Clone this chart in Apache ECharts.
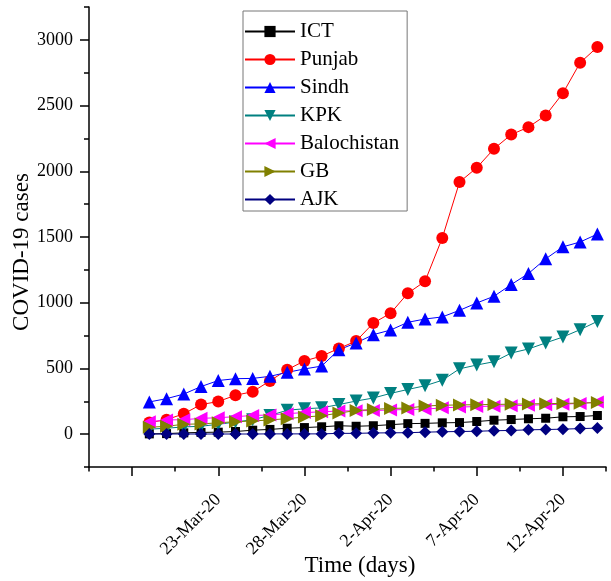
<!DOCTYPE html>
<html>
<head>
<meta charset="utf-8">
<script src="https://cdn.jsdelivr.net/npm/echarts@6/dist/echarts.min.js"></script>
<style>html,body{margin:0;padding:0;background:#fff;}#c{width:611px;height:581px;}</style>
</head>
<body>
<div id="c"></div>
<script>
var dates = ['19-Mar-20','20-Mar-20','21-Mar-20','22-Mar-20','23-Mar-20','24-Mar-20','25-Mar-20','26-Mar-20','27-Mar-20','28-Mar-20','29-Mar-20','30-Mar-20','31-Mar-20','1-Apr-20','2-Apr-20','3-Apr-20','4-Apr-20','5-Apr-20','6-Apr-20','7-Apr-20','8-Apr-20','9-Apr-20','10-Apr-20','11-Apr-20','12-Apr-20','13-Apr-20','14-Apr-20'];
var ICT = [2,4,10,13,15,20,30,36,45,50,56,64,60,64,72,80,82,86,88,96,106,111,117,121,132,134,142];
var Punjab = [88,110,155,225,248,296,323,405,490,557,594,652,708,845,920,1072,1163,1493,1918,2027,2171,2279,2336,2425,2594,2826,2945];
var Sindh = [245,270,305,362,408,422,424,440,470,496,518,642,694,757,792,851,876,892,942,998,1049,1138,1222,1334,1425,1462,1522];
var KPK = [38,45,55,60,75,92,110,142,182,193,200,225,252,275,310,340,368,410,497,526,551,617,648,694,739,795,858];
var Balochistan = [94,108,110,120,125,133,142,146,156,164,170,176,178,180,184,188,190,200,206,210,213,216,220,224,228,234,244];
var GB = [52,60,75,78,86,95,100,108,118,130,140,160,180,188,196,198,214,220,222,224,226,228,230,232,234,236,240];
var AJK = [1,1,1,1,1,1,1,2,2,2,2,6,6,9,10,11,15,18,20,22,26,28,33,35,38,42,46];
var yMajorTicks = [0,500,1000,1500,2000,2500,3000];
var xMajorTicks = [0,5,10,15,20,25];
var months = ['Jan','Feb','Mar','Apr','May','Jun','Jul','Aug','Sep','Oct','Nov','Dec'];

var refDay = Date.UTC(2020, 2, 18);
function dayOffset(s) {
  var p = s.split('-');
  var t = Date.UTC(2000 + parseInt(p[2], 10), months.indexOf(p[1]), parseInt(p[0], 10));
  return Math.round((t - refDay) / 86400000);
}
function dateLabel(v) {
  var d = new Date(refDay + v * 86400000);
  return d.getUTCDate() + '-' + months[d.getUTCMonth()] + '-20';
}
function pairs(arr) { return arr.map(function (v, i) { return [dayOffset(dates[i]), v]; }); }

var FONT = 'Liberation Serif';
var seriesDefs = [
  {name: 'ICT', data: ICT, color: '#000000', symbol: 'rect', size: 9, rot: 0},
  {name: 'Punjab', data: Punjab, color: '#ff0000', symbol: 'circle', size: 12, rot: 0},
  {name: 'Sindh', data: Sindh, color: '#0000ff', symbol: 'triangle', size: 13, rot: 0},
  {name: 'KPK', data: KPK, color: '#008080', symbol: 'triangle', size: 13, rot: 180},
  {name: 'Balochistan', data: Balochistan, color: '#ff00ff', symbol: 'triangle', size: 13, rot: 90},
  {name: 'GB', data: GB, color: '#808000', symbol: 'triangle', size: 13, rot: -90},
  {name: 'AJK', data: AJK, color: '#000080', symbol: 'diamond', size: 12, rot: 0}
];

var chart = echarts.init(document.getElementById('c'), null, {renderer: 'canvas'});
var axisLineStyle = {color: '#000', width: 1.5};
chart.setOption({
  animation: false,
  backgroundColor: '#fff',
  grid: {left: 89, right: 5, top: 7, bottom: 114, containLabel: false},
  legend: {
    orient: 'vertical', left: 243, top: 11,
    itemWidth: 50, itemHeight: 14, itemGap: 7,
    padding: [10, 8, 1, 1],
    borderColor: '#777', borderWidth: 1,
    textStyle: {fontFamily: FONT, fontSize: 21, color: '#000'},
    data: seriesDefs.map(function (s) { return s.name; })
  },
  xAxis: [
    {type: 'value', min: -2.5, max: 27.5, interval: 2.5,
     axisLine: {onZero: false, lineStyle: axisLineStyle}, splitLine: {show: false},
     axisTick: {length: 4.5, lineStyle: {color: '#000', width: 1.5}},
     axisLabel: {rotate: 45, margin: 30, fontFamily: FONT, fontSize: 18, color: '#000',
       formatter: function (v) { return (v > 0 && v % 5 === 0) ? dateLabel(v) : ''; }}},
    {type: 'value', min: -2.5, max: 27.5, position: 'bottom',
     axisLine: {show: false, onZero: false}, splitLine: {show: false}, axisLabel: {show: false},
     axisTick: {length: 9, customValues: xMajorTicks, lineStyle: {color: '#000', width: 1.5}}}
  ],
  yAxis: [
    {type: 'value', min: -250, max: 3250, interval: 250,
     axisLine: {show: true, onZero: false, lineStyle: axisLineStyle}, splitLine: {show: false},
     axisTick: {show: true, length: 5, lineStyle: {color: '#000', width: 1.5}},
     axisLabel: {margin: 16, fontFamily: FONT, fontSize: 18, color: '#000',
       formatter: function (v) { return (v >= 0 && v % 500 === 0) ? String(v) : ''; }}},
    {type: 'value', min: -250, max: 3250, position: 'left',
     axisLine: {show: false, onZero: false}, splitLine: {show: false}, axisLabel: {show: false},
     axisTick: {show: true, length: 9, customValues: yMajorTicks, lineStyle: {color: '#000', width: 1.5}}}
  ],
  graphic: [
    {type: 'text', x: 360, y: 566, style: {text: 'Time (days)', font: '23px "Liberation Serif"', fill: '#000', align: 'center', verticalAlign: 'middle'}},
    {type: 'text', x: 22, y: 252, rotation: Math.PI / 2, style: {text: 'COVID-19 cases', font: '23px "Liberation Serif"', fill: '#000', align: 'center', verticalAlign: 'middle'}}
  ],
  series: seriesDefs.map(function (s) {
    return {
      name: s.name, type: 'line', xAxisIndex: 0, yAxisIndex: 0,
      data: pairs(s.data),
      symbol: s.symbol, symbolSize: s.size, symbolRotate: s.rot, showAllSymbol: true,
      lineStyle: {color: s.color, width: 1},
      itemStyle: {color: s.color, borderWidth: 0},
      emphasis: {disabled: true}
    };
  })
});
</script>
</body>
</html>
